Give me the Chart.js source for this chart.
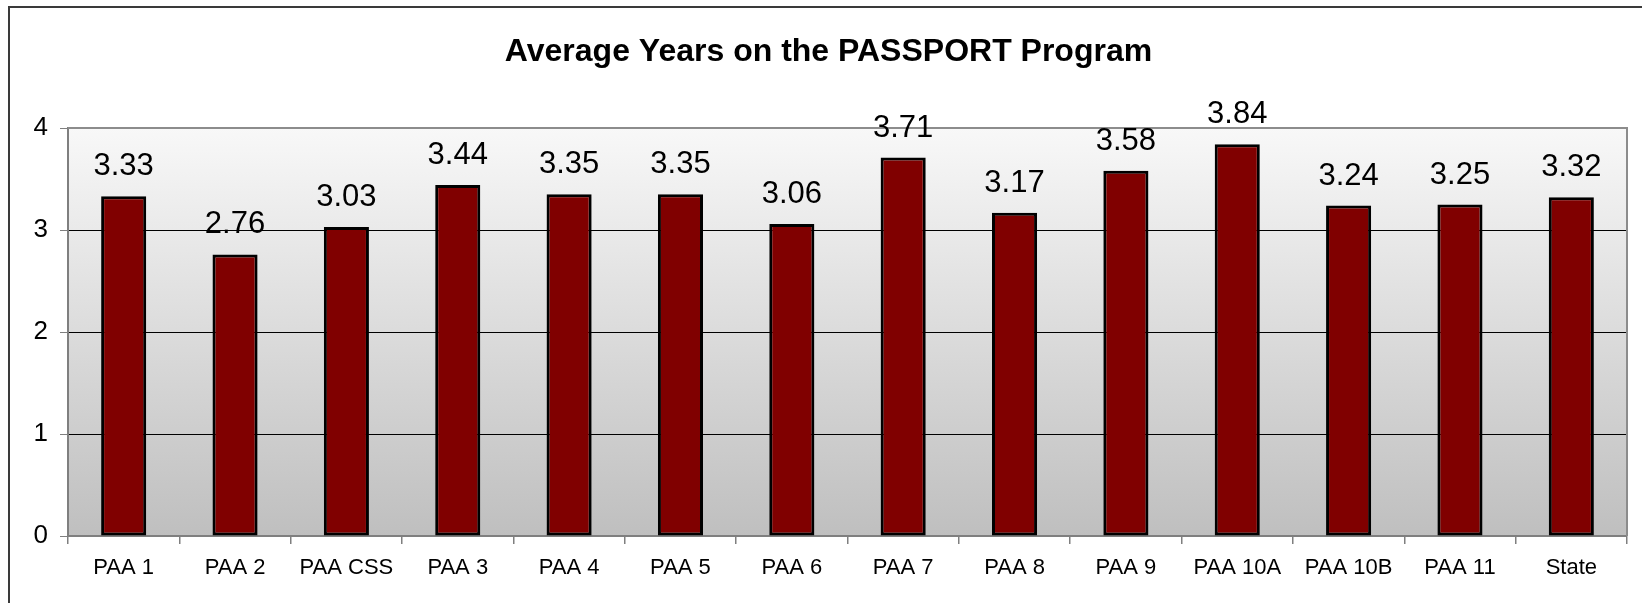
<!DOCTYPE html>
<html>
<head>
<meta charset="utf-8">
<title>Average Years on the PASSPORT Program</title>
<script src="https://cdn.jsdelivr.net/npm/chart.js@4"></script>
<style>
  html, body { margin: 0; padding: 0; background: #fff; }
  #wrap { width: 1642px; height: 603px; }
</style>
</head>
<body>
<div id="wrap"><canvas id="yearsChart" width="1642" height="603"></canvas></div>
<script>
const chartTitle = 'Average Years on the PASSPORT Program';
const categories = ['PAA 1', 'PAA 2', 'PAA CSS', 'PAA 3', 'PAA 4', 'PAA 5', 'PAA 6', 'PAA 7', 'PAA 8', 'PAA 9', 'PAA 10A', 'PAA 10B', 'PAA 11', 'State'];
const avgYears = [3.33, 2.76, 3.03, 3.44, 3.35, 3.35, 3.06, 3.71, 3.17, 3.58, 3.84, 3.24, 3.25, 3.32];
const yMin = 0;
const yMax = 4;
const yStep = 1;

const fontFamily = "'Liberation Sans', Arial, Helvetica, sans-serif";

// outer frame + gradient behind the bars
const backgroundPlugin = {
    id: 'backgroundPlugin',
    beforeDraw(chart) {
        const ctx = chart.ctx;
        const area = chart.chartArea;
        ctx.save();
        ctx.strokeStyle = '#3a3a3a';
        ctx.lineWidth = 2;
        ctx.beginPath();
        ctx.moveTo(9, chart.height + 5);
        ctx.lineTo(9, 7);
        ctx.lineTo(chart.width + 5, 7);
        ctx.stroke();

        const grad = ctx.createLinearGradient(0, area.top, 0, area.bottom);
        grad.addColorStop(0, '#f8f8f8');
        grad.addColorStop(1, '#bfbfbf');
        ctx.fillStyle = grad;
        ctx.fillRect(area.left, area.top, area.right - area.left, area.bottom - area.top);
        ctx.restore();
    },
    afterDatasetsDraw(chart) {
        const ctx = chart.ctx;
        const area = chart.chartArea;
        ctx.save();
        ctx.strokeStyle = '#8c8c8c';
        ctx.lineWidth = 2;
        ctx.beginPath();
        ctx.moveTo(area.left, area.top);
        ctx.lineTo(area.right, area.top);
        ctx.lineTo(area.right, area.bottom);
        ctx.stroke();
        ctx.restore();
    }
};

// numbers printed above each bar
const valueLabels = {
    id: 'valueLabels',
    afterDatasetsDraw(chart) {
        const ctx = chart.ctx;
        const meta = chart.getDatasetMeta(0);
        ctx.save();
        ctx.font = '31px ' + fontFamily;
        ctx.fillStyle = '#000';
        ctx.textAlign = 'center';
        ctx.textBaseline = 'alphabetic';
        meta.data.forEach((bar, i) => {
            ctx.fillText(avgYears[i].toFixed(2), bar.x, bar.y - 21);
        });
        ctx.restore();
    }
};

function createBarChart(ctx) {
    return new Chart(ctx, {
        type: 'bar',
        data: {
            labels: categories,
            datasets: [
                {
                    label: chartTitle,
                    data: avgYears,
                    backgroundColor: '#800000',
                    borderColor: '#000000',
                    borderWidth: 3,
                    borderSkipped: false,
                    categoryPercentage: 1.0,
                    barPercentage: 0.405,
                }
            ]
        },
        options: {
            responsive: false,
            animation: false,
            devicePixelRatio: 1,
            layout: {
                padding: { left: 30, right: 15, top: 6, bottom: 0 }
            },
            scales: {
                x: {
                    offset: true,
                    grid: {
                        offset: true,
                        drawOnChartArea: false,
                        drawTicks: true,
                        tickLength: 8,
                        color: '#7f7f7f',
                        lineWidth: 1.5,
                    },
                    border: { display: true, color: '#7f7f7f', width: 2 },
                    ticks: {
                        color: '#000',
                        font: { family: fontFamily, size: 22 },
                        padding: 11,
                        maxRotation: 0,
                        autoSkip: false,
                    },
                    afterFit(scale) {
                        scale.height = 67;
                    }
                },
                y: {
                    min: yMin,
                    max: yMax,
                    grid: {
                        color: (c) => (c.tick && c.tick.value === yMax ? 'rgba(0,0,0,0)' : '#000000'),
                        tickColor: '#7f7f7f',
                        lineWidth: 1,
                        tickLength: 8,
                    },
                    border: { display: true, color: '#7f7f7f', width: 2 },
                    ticks: {
                        stepSize: yStep,
                        color: '#000',
                        font: { family: fontFamily, size: 26 },
                        padding: 12,
                    },
                    afterFit(scale) {
                        scale.width = 38;
                    }
                }
            },
            plugins: {
                legend: { display: false },
                tooltip: { enabled: false },
                title: {
                    display: true,
                    text: chartTitle,
                    color: '#000',
                    font: { family: fontFamily, size: 32, weight: 'bold' },
                    padding: { top: 27, bottom: 56.6 },
                }
            }
        },
        plugins: [backgroundPlugin, valueLabels]
    });
}

window.onload = () => {
    const ctx = document.getElementById('yearsChart').getContext('2d');
    createBarChart(ctx);
};
</script>
</body>
</html>
